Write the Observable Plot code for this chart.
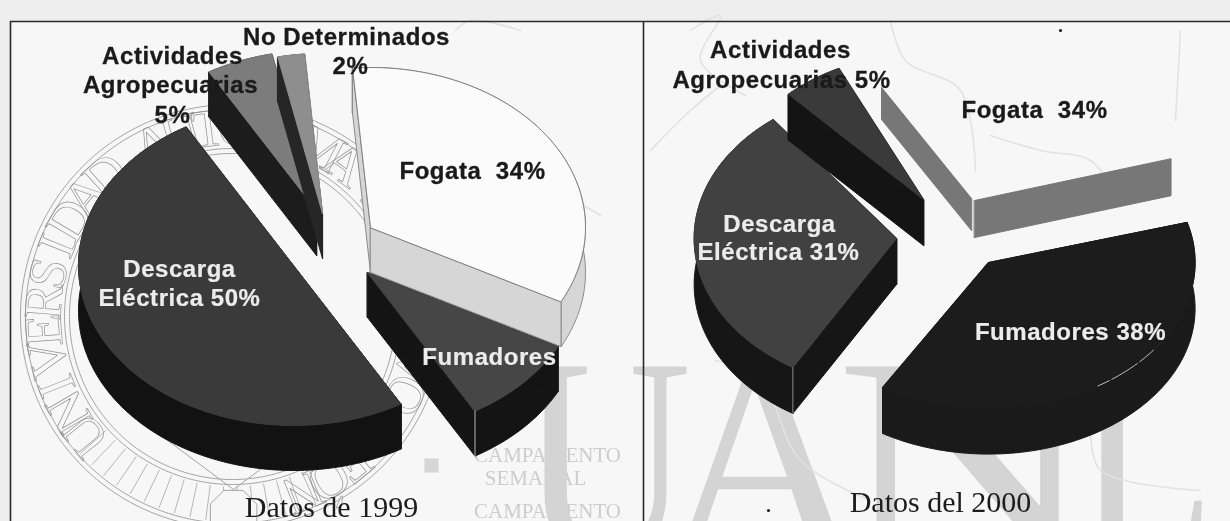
<!DOCTYPE html>
<html>
<head>
<meta charset="utf-8">
<script src="https://cdn.jsdelivr.net/npm/d3@7"></script>
<script src="https://cdn.jsdelivr.net/npm/@observablehq/plot@0.6"></script>
<style>
html,body{margin:0;padding:0;background:#eeeeee;overflow:hidden}
svg{display:block;filter:blur(.5px)}
.lab text{letter-spacing:.55px}
</style>
</head>
<body>
<div id="chart"></div>
<script>
// ---- data
const categories1999 = ["Descarga Eléctrica","Actividades Agropecuarias","No Determinados","Fogata","Fumadores"];
const values1999 = [50,5,2,34,9];
const categories2000 = ["Fumadores","Descarga Eléctrica","Actividades Agropecuarias","Fogata"];
const values2000 = [38,31,5,26]; // the Fogata gap as drawn spans about 26%, though its label says 34%

const labelsBlack = ["No Determinados","2%","Actividades","Agropecuarias","5%","Fogata  34%","Actividades","Agropecuarias 5%","Fogata  34%"];
const labelsWhite = ["Descarga","Eléctrica 50%","Fumadores","Descarga","Eléctrica 31%","Fumadores 38%"];
const titles = ["Datos de 1999","Datos del 2000"];
const sealText = "UNIVERSIDAD AUTÓNOMA DE NUEVO LEÓN";
const bigLetters = ["U","A","N","L"];
const legendGhost = ["CAMPAMENTO","SEMANAL","CAMPAMENTO"];

// ---- layout (separate from the data)
const W = 1230, H = 521;
const left = {start:60, rx:215, ry:160, depth:45, slices:[
  {i:3, c:[370,227], top:"#fbfbfb", wall:"#d6d6d6", line:"#808080", wallLine:"#8a8a8a"},
  {i:4, c:[367,272], top:"#464646", wall:"#141414", line:"#464646", tipLine:"#b5b5b5", tipEnd:1},
  {i:0, c:[293,265], top:"#3a3a3a", wall:"#121212", line:"#3a3a3a"},
  {i:1, c:[316,210], top:"#7c7c7c", wall:"#1c1c1c", line:"#7c7c7c"},
  {i:2, c:[322,213], top:"#8e8e8e", wall:"#262626", line:"#8e8e8e"}
]};
const right = {start:-16, rx:213, ry:158, depth:46, slices:[
  {i:0, c:[988,262], r:.97, ryScale:.95, top:"#1c1c1c", wall:"#1a1a1a", line:"#1c1c1c"},
  {i:1, c:[896,238], r:.95, top:"#414141", wall:"#161616", line:"#414141", tipLine:"#8a8a8a", tipEnd:0},
  {i:2, c:[923,199], r:.92, nudge:-6, top:"#3a3a3a", wall:"#141414", line:"#3a3a3a"}
]};
const fogataStrips = [
  {c:[971,198], angle:239, r:.82, depth:32},
  {c:[974,200], angle:-16, r:.96, depth:37}
];
const blackPos = [[346,37],[350,66],[172,56],[170,85],[172,115],[472,171],[780,50],[781,80],[1034,110]];
const whitePos = [[179,269],[179,298],[489,357],[779,224],[778,252],[1070,332]];
const titlePos = [[331,507],[940,502]];
const bigLetterBoxes = [{x:519,len:172},{x:660,len:205},{x:835,len:262},{x:1075,len:140}];
const bigTop = 350;
const ghostPos = [[547,455],[535,478],[547,511]];
const specks = [[1060,30],[768,510]];

// ---- geometry helpers
const rad = d => d*Math.PI/180;
const pt = (c,a,rx,ry,dy=0) => ({x:c[0]+rx*Math.cos(rad(a)), y:c[1]+ry*Math.sin(rad(a))+dy});
const arc = (c,a0,a1,rx,ry,dy=0) => {
  const n = Math.max(2,Math.ceil(Math.abs(a1-a0)));
  return d3.range(n+1).map(k => pt(c,a0+(a1-a0)*k/n,rx,ry,dy));
};
const apex = (c,dy=0) => ({x:c[0],y:c[1]+dy});
const poly = (pts,fill,stroke=fill,strokeWidth=1) =>
  Plot.line(pts,{x:"x",y:"y",fill,stroke,strokeWidth,curve:"linear-closed"});

function pie(cfg,values){
  const out = [];
  const total = d3.sum(values);
  const cum = d3.cumsum(values);
  for (const s of cfg.slices){
    const a0 = cfg.start + (s.i?cum[s.i-1]:0)/total*360 + (s.nudge||0);
    const a1 = cfg.start + cum[s.i]/total*360 + (s.nudge||0);
    const rx = cfg.rx*(s.r||1), ry = cfg.ry*(s.r||1)*(s.ryScale||1), d = cfg.depth;
    const A = arc(s.c,a0,a1,rx,ry), B = arc(s.c,a0,a1,rx,ry,d).reverse();
    out.push(poly([...A,...B],s.wall,s.wallLine||s.wall));
    const p0 = pt(s.c,a0,rx,ry), p1 = pt(s.c,a1,rx,ry);
    for (const p of [p0,p1])
      out.push(poly([apex(s.c),p,{x:p.x,y:p.y+d},apex(s.c,d)],s.wall,s.wallLine||s.wall));
    out.push(poly([apex(s.c),...A],s.top,s.line,1));
    if (s.tipLine){
      const t = s.tipEnd ? p1 : p0;
      out.push(Plot.line([t,{x:t.x,y:t.y+d}],{x:"x",y:"y",stroke:s.tipLine,strokeWidth:1}));
    }
  }
  return out;
}

// ---- watermark seal
const sealC = [232,316], sealInk = "#a4a4a4";
const ring = r => Plot.line(arc(sealC,0,360,r,r),{x:"x",y:"y",stroke:sealInk,strokeWidth:1});
const sealRows = Array.from(sealText).map((ch,k) => {
  const a = 141 + k*8.7;
  const p = pt(sealC,a,189,189);
  return {ch,x:p.x,y:p.y,rot:a+90};
}).filter(d => d.ch !== " ");
const hatch = d3.range(66,140,4.5).map(a => {
  const p = pt(sealC,a,170,170), q = pt(sealC,a,205,205);
  return {x1:p.x,y1:p.y,x2:q.x,y2:q.y};
});
const shield = [[123,407],[233,489],[345,405]];
const octagon = d3.range(8).map(k => pt([233,513],22.5+45*k,25,25));

const contourLines = [
  [[455,30],[470,20],[520,30]],
  [[380,110],[405,95],[430,125],[480,135],[560,190],[600,215]],
  [[470,215],[520,195],[555,240],[552,320]],
  [[690,30],[720,15],[700,60],[745,95]],
  [[650,150],[690,110],[720,85]],
  [[890,20],[905,60],[960,90],[975,170]],
  [[990,135],[1040,150],[1090,160],[1120,200]],
  [[1180,30],[1175,120]],
  [[715,360],[760,380],[800,460],[870,500]],
  [[1090,430],[1100,470],[1200,490]]
];

const marks = [
  // scanned page panel
  Plot.rect([0],{x1:10,x2:W,y1:21,y2:H,fill:"#f7f7f7"}),
  // ghost map legend
  Plot.text(legendGhost,{x:(d,i)=>ghostPos[i][0],y:(d,i)=>ghostPos[i][1],text:d=>d,
    fontFamily:"Liberation Serif",fontSize:21,fill:"#cdcdcd"}),
  Plot.dot([[431,465]],{x:d=>d[0],y:d=>d[1],r:8,symbol:"square",fill:"#d6d6d6"}),
  // big UANL watermark
  Plot.text(bigLetters,{className:"big",x:(d,i)=>bigLetterBoxes[i].x,y:bigTop,text:d=>d,
    fontFamily:"Liberation Serif",fontSize:288,textAnchor:"start",lineAnchor:"top",fill:"#d4d4d4"}),
  // faint map contours
  ...contourLines.map(l => Plot.line(l,{x:d=>d[0],y:d=>d[1],stroke:"#e2e2e2",strokeWidth:1.6,curve:"catmull-rom"})),
  // seal
  ring(212), ring(207), ring(168), ring(163),
  Plot.link(hatch,{x1:"x1",y1:"y1",x2:"x2",y2:"y2",stroke:sealInk,strokeWidth:.8}),
  Plot.line(shield,{x:d=>d[0],y:d=>d[1],stroke:sealInk,strokeWidth:1}),
  Plot.text(sealRows,{x:"x",y:"y",text:"ch",rotate:"rot",fontFamily:"Liberation Serif",fontSize:54,
    fill:"none",stroke:"#949494",strokeWidth:.7}),
  poly(octagon,"#f7f7f7",sealInk,1),
  // frame
  Plot.ruleY([21],{x1:10,x2:W,stroke:"#2a2a2a",strokeWidth:1.6}),
  Plot.ruleX([10,643],{y1:21,y2:H,stroke:"#2a2a2a",strokeWidth:1.6}),
  // pies
  ...pie(left,values1999),
  ...fogataStrips.map(s => {
    const p = pt(s.c,s.angle,right.rx*s.r,right.ry*s.r);
    return poly([apex(s.c),p,{x:p.x,y:p.y+s.depth},apex(s.c,s.depth)],"#777777");
  }),
  ...pie(right,values2000),
  Plot.line(arc([988,262],37,58,206.6,145.6),{x:"x",y:"y",stroke:"#bdbdbd",strokeWidth:1,strokeDasharray:"18 3 30 3"}),
  Plot.dot(specks,{x:d=>d[0],y:d=>d[1],r:1.6,fill:"#222"}),
  // labels
  Plot.text(labelsBlack,{className:"lab",x:(d,i)=>blackPos[i][0],y:(d,i)=>blackPos[i][1],text:d=>d,
    fontFamily:"Liberation Sans",fontWeight:700,fontSize:24,fill:"#1a1a1a",stroke:"#1a1a1a",strokeWidth:.3}),
  Plot.text(labelsWhite,{className:"lab",x:(d,i)=>whitePos[i][0],y:(d,i)=>whitePos[i][1],text:d=>d,
    fontFamily:"Liberation Sans",fontWeight:700,fontSize:24,fill:"#ececec",stroke:"#ececec",strokeWidth:.2}),
  Plot.text(titles,{x:(d,i)=>titlePos[i][0],y:(d,i)=>titlePos[i][1],text:d=>d,
    fontFamily:"Liberation Serif",fontSize:30,fill:"#1c1c1c"})
];

const chart = Plot.plot({
  width:W,height:H,margin:0,
  style:{background:"transparent",overflow:"hidden"},
  x:{domain:[0,W],range:[0,W],axis:null},
  y:{domain:[0,H],range:[0,H],axis:null},
  marks
});
chart.querySelectorAll(".big text").forEach((t,i) => {
  t.setAttribute("textLength",bigLetterBoxes[i].len);
  t.setAttribute("lengthAdjust","spacingAndGlyphs");
});
document.getElementById("chart").append(chart);
</script>
</body>
</html>
